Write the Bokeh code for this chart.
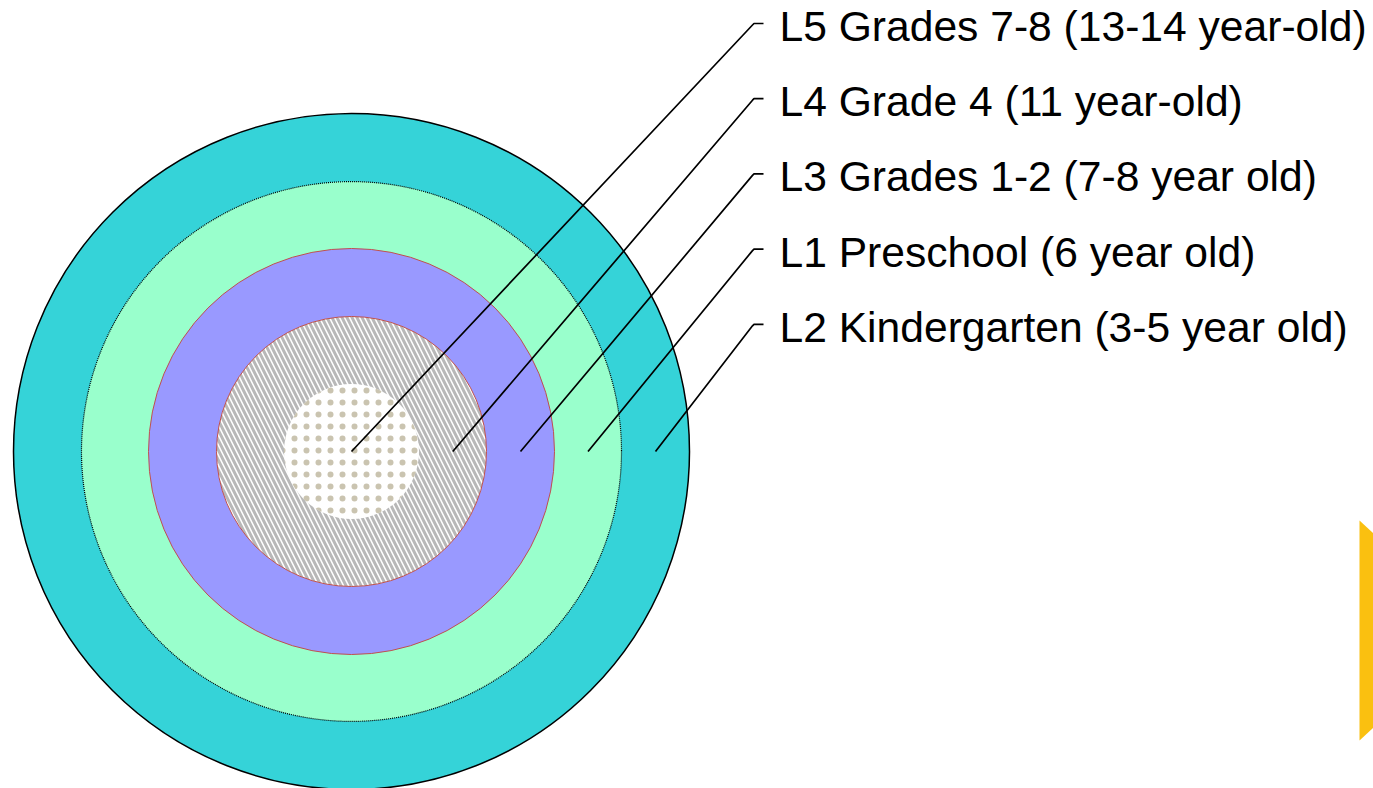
from bokeh.plotting import figure
from bokeh.models import Range1d
from bokeh.embed import file_html
from bokeh.resources import INLINE
from bokeh.core.properties import value

# ---- data ----
# rings from outside to inside
ring_labels = ["L2 Kindergarten (3-5 year old)",
               "L1 Preschool (6 year old)",
               "L3 Grades 1-2 (7-8 year old)",
               "L4 Grade 4 (11 year-old)",
               "L5 Grades 7-8 (13-14 year-old)"]
ring_radii = [338, 270, 203, 135, 67.5]
# label order in the list at top-right (top to bottom)
label_order = ["L5 Grades 7-8 (13-14 year-old)",
               "L4 Grade 4 (11 year-old)",
               "L3 Grades 1-2 (7-8 year old)",
               "L1 Preschool (6 year old)",
               "L2 Kindergarten (3-5 year old)"]

# ---- style / layout ----
W, H = 1373, 788
CX, CY = 351, -451
fills = ["#35D3D8", "#99FFCC", "#9999FF", "#FFFFFF", "#FFFFFF"]
line_colors = ["black", "black", "#C0504D", "#C0504D", None]
line_dashes = ["solid", "1 1", "solid", "solid", "solid"]
line_widths = [1.5, 1.2, 1.0, 1.0, 0]

p = figure(width=W, height=H, output_backend="svg", toolbar_location=None,
           x_range=Range1d(0, W), y_range=Range1d(-H, 0),
           min_border=0)
p.axis.visible = False
p.grid.visible = False
p.outline_line_color = None
p.background_fill_color = "white"
p.border_fill_color = "white"

for i, r in enumerate(ring_radii):
    kw = dict(x=[CX], y=[CY], radius=r, fill_color=fills[i])
    if line_colors[i] is None:
        kw.update(line_color=None)
    else:
        kw.update(line_color=line_colors[i], line_width=line_widths[i],
                  line_dash=line_dashes[i])
    if i == 3:
        kw.update(hatch_pattern="\\", hatch_color="#B8B8B8", hatch_scale=10,
                  hatch_weight=3)
    if i == 4:
        kw.update(hatch_pattern=".", hatch_color="#BDB59C", hatch_scale=12,
                  hatch_weight=1, hatch_alpha=0.8)
    p.circle(**kw)

# leader lines and labels
x_h0, x_h1, x_text = 752, 763, 779
top_y, step = 23, 75.2
for k, lab in enumerate(label_order):
    i = ring_labels.index(lab)
    if i == len(ring_radii) - 1:
        r_mid = 0
    else:
        r_mid = (ring_radii[i] + ring_radii[i + 1]) / 2
    ax = CX + r_mid
    ly = -(top_y + k * step)
    p.line([ax, x_h0, x_h0 + 1.5, x_h1], [CY, ly - 1.5, ly, ly],
           line_color="black", line_width=1.7)
    p.text([x_text], [ly - 2.5], text=[lab], text_font=value("Liberation Sans"),
           text_font_size="42.6px", text_color="black",
           text_align="left", text_baseline="middle")

# decorative yellow tab at the right edge
p.patch([1359, 1373, 1373, 1359], [-520, -533, -727, -740],
        fill_color="#FAC010", line_color=None)

open("out.html", "w").write(file_html(p, INLINE))
